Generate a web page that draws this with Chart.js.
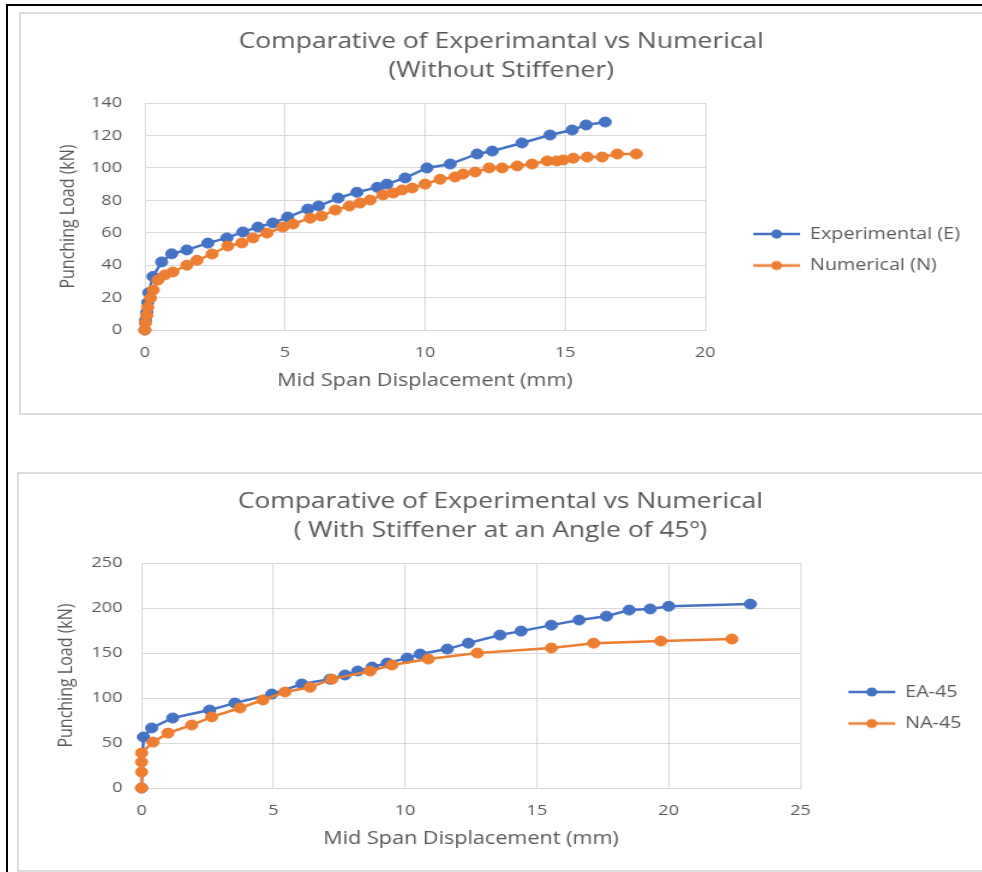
<!DOCTYPE html>
<html>
<head>
<meta charset="utf-8">
<script src="https://cdn.jsdelivr.net/npm/chart.js@4/dist/chart.umd.min.js"></script>
<style>
  html, body { margin: 0; padding: 0; background: #fff; overflow: hidden; }
  body { width: 982px; height: 872px; position: relative; }
  .frame { position: absolute; left: 6px; top: 4px; width: 1100px; height: 1000px;
           border-left: 2.5px solid #000; border-top: 2.5px solid #000; }
  .box { position: absolute; border: 2px solid #dcdcdc; background: #fff; }
  .stretch { position: absolute; transform: scaleX(1.2); transform-origin: 0 0; }
</style>
</head>
<body>
<div class="frame"></div>
<div class="box" style="left:19px; top:12px; width:1000px; height:399px;"></div>
<div class="box" style="left:17px; top:472px; width:1000px; height:396px;"></div>
<div class="stretch" style="left:20px; top:14px;"><canvas id="chartNoStiff" width="802" height="398"></canvas></div>
<div class="stretch" style="left:18px; top:474px;"><canvas id="chartStiff45" width="804" height="396"></canvas></div>

<script>
// Without stiffener - experimental (E)
const expDisp = [0, 0.03, 0.07, 0.1, 0.14, 0.29, 0.6, 0.96, 1.5, 2.25, 2.93, 3.5, 4.04, 4.57, 5.1, 5.82, 6.2, 6.9, 7.57, 8.3, 8.64, 9.29, 10.07, 10.9, 11.86, 12.4, 13.46, 14.46, 15.25, 15.75, 16.43];
const expLoad = [0, 6, 11, 17, 23, 33, 42, 47, 49.4, 53.6, 56.8, 60.5, 63.5, 66, 69.7, 74.6, 76.5, 81.4, 85, 88, 90, 93.8, 100, 102.4, 108.6, 110.4, 115.4, 120.3, 123.4, 126.5, 128.3];

// Without stiffener - numerical (N)
const numDisp = [0, 0.02, 0.07, 0.1, 0.2, 0.3, 0.47, 0.71, 1.0, 1.5, 1.86, 2.4, 2.96, 3.46, 3.86, 4.36, 4.93, 5.29, 5.9, 6.3, 6.8, 7.3, 7.68, 8.04, 8.5, 8.86, 9.18, 9.54, 10.0, 10.54, 11.07, 11.36, 11.79, 12.29, 12.75, 13.29, 13.82, 14.36, 14.7, 14.93, 15.29, 15.79, 16.32, 16.86, 17.54];
const numLoad = [0, 4.3, 9, 14, 19.7, 24.7, 30.8, 34, 35.8, 40, 43, 46.9, 51.8, 53.7, 56.8, 59.8, 63.5, 65.4, 69, 70.3, 74, 76.5, 78.3, 80.2, 83.3, 84.5, 86.4, 87.6, 90, 93, 94.4, 96.2, 97.5, 100, 100, 101.2, 102.4, 104.3, 104.3, 104.9, 106, 106.7, 106.7, 108.6, 108.6];

// Stiffener at 45 degrees - EA-45
const ea45Disp = [0, 0.07, 0.38, 1.18, 2.58, 3.54, 4.94, 6.08, 7.15, 7.72, 8.2, 8.75, 9.32, 10.08, 10.57, 11.6, 12.4, 13.6, 14.4, 15.55, 16.6, 17.64, 18.5, 19.3, 20.0, 23.1];
const ea45Load = [0, 56.7, 66.7, 77.8, 86.7, 94.4, 104.4, 115.6, 121, 125.6, 130, 134.4, 138.9, 144.4, 148.9, 154.4, 161, 170, 174.4, 181, 186.7, 191, 197.8, 199, 202, 204.4];

// Stiffener at 45 degrees - NA-45
const na45Disp = [0, 0, 0, 0, 0.43, 1.0, 1.9, 2.66, 3.73, 4.6, 5.44, 6.39, 7.22, 8.67, 9.5, 10.88, 12.74, 15.55, 17.15, 19.7, 22.4];
const na45Load = [0, 17.8, 28.9, 38.9, 51, 61, 70, 79, 88.9, 97.8, 106.7, 112, 121, 130, 136.7, 143.3, 150, 155.6, 161, 163.3, 165.6];

const BLUE = '#4472C4';
const ORANGE = '#ED7D31';
const TEXT = '#595959';
const GRID = '#d9d9d9';

Chart.defaults.font.family = "'Open Sans', sans-serif";
Chart.defaults.color = TEXT;

function toPoints(xs, ys) {
    return xs.map((x, i) => ({ x: x, y: ys[i] }));
}

// small line-with-dot marker used in the legend
function legendMarker(color) {
    const c = document.createElement('canvas');
    c.width = 64;
    c.height = 12;
    const g = c.getContext('2d');
    g.strokeStyle = color;
    g.lineWidth = 2.5;
    g.beginPath();
    g.moveTo(25, 6);
    g.lineTo(64, 6);
    g.stroke();
    g.fillStyle = color;
    g.beginPath();
    g.arc(44.5, 6, 4.5, 0, Math.PI * 2);
    g.fill();
    return c;
}

function series(label, xs, ys, color, order) {
    return {
        label: label,
        data: toPoints(xs, ys),
        borderColor: color,
        backgroundColor: color,
        borderWidth: 2.5,
        pointRadius: 5,
        pointBorderWidth: 1,
        pointBackgroundColor: color,
        pointBorderColor: color,
        tension: 0,
        clip: false,
        order: order
    };
}

function makeChart(id, cfg) {
    const ctx = document.getElementById(id).getContext('2d');
    return new Chart(ctx, {
        type: 'line',
        data: { datasets: cfg.datasets },
        options: {
            responsive: false,
            animation: false,
            layout: { padding: 0 },
            plugins: {
                title: {
                    display: true,
                    text: cfg.title,
                    color: TEXT,
                    font: { size: 22, weight: 'normal', lineHeight: 1.32 },
                    padding: cfg.titlePad
                },
                legend: {
                    position: 'right',
                    title: { display: true, text: '', padding: { top: 0, bottom: cfg.legendShift } },
                    labels: {
                        usePointStyle: true,
                        pointStyleWidth: 64,
                        padding: 15,
                        color: TEXT,
                        font: { size: 16.5 },
                        sort: (a, b) => a.datasetIndex - b.datasetIndex,
                        generateLabels: function(chart) {
                            const items = Chart.defaults.plugins.legend.labels.generateLabels(chart);
                            return items.map(item => Object.assign(item, {
                                pointStyle: legendMarker(chart.data.datasets[item.datasetIndex].borderColor)
                            }));
                        }
                    }
                },
                tooltip: { enabled: false }
            },
            scales: {
                x: {
                    type: 'linear',
                    min: 0,
                    max: cfg.xMax,
                    ticks: { stepSize: 5, padding: 14, color: TEXT, font: { size: 15 } },
                    grid: { color: GRID, lineWidth: 1, drawTicks: false },
                    border: { color: GRID },
                    title: {
                        display: true,
                        text: 'Mid Span Displacement (mm)',
                        color: TEXT,
                        font: { size: 18 },
                        padding: { top: 0, bottom: 20.5 }
                    },
                    afterFit: function(scale) { scale.height = cfg.xAxisHeight; }
                },
                y: {
                    min: 0,
                    max: cfg.yMax,
                    ticks: { stepSize: cfg.yStep, padding: cfg.yTickPad, color: TEXT, font: { size: 15 } },
                    grid: { color: GRID, lineWidth: 1, drawTicks: false },
                    border: { color: GRID },
                    title: {
                        display: true,
                        text: 'Punching Load (kN)',
                        color: TEXT,
                        font: { size: 16 },
                        padding: { top: 30.4, bottom: 0 }
                    },
                    afterFit: function(scale) { scale.width = cfg.yAxisWidth; }
                }
            }
        },
        plugins: [{
            // keep the legend column a fixed width so the plot area stays put
            id: 'legendWidth',
            beforeLayout: function(chart) {
                const legend = chart.legend;
                if (legend && !legend._fixedWidth) {
                    const fit = legend.fit;
                    legend.fit = function() {
                        fit.call(this);
                        this.width = cfg.legendWidth;
                    };
                    legend._fixedWidth = true;
                }
            }
        }]
    });
}

makeChart('chartNoStiff', {
    title: ['Comparative of Experimantal vs Numerical', '(Without Stiffener)'],
    titlePad: { top: 13.5, bottom: 17.5 },
    datasets: [
        series('Experimental (E)', expDisp, expLoad, BLUE, 1),
        series('Numerical (N)', numDisp, numLoad, ORANGE, 0)
    ],
    xMax: 20,
    yMax: 140,
    yStep: 20,
    yTickPad: 19,
    xAxisHeight: 82,
    yAxisWidth: 104,
    legendWidth: 231,
    legendShift: 59
});

makeChart('chartStiff45', {
    title: ['Comparative of Experimental vs Numerical', '( With Stiffener at an Angle of 45º)'],
    titlePad: { top: 13.5, bottom: 17.5 },
    datasets: [
        series('EA-45', ea45Disp, ea45Load, BLUE, 1),
        series('NA-45', na45Disp, na45Load, ORANGE, 0)
    ],
    xMax: 25,
    yMax: 250,
    yStep: 50,
    yTickPad: 16,
    xAxisHeight: 82,
    yAxisWidth: 103,
    legendWidth: 152,
    legendShift: 57
});
</script>
</body>
</html>
